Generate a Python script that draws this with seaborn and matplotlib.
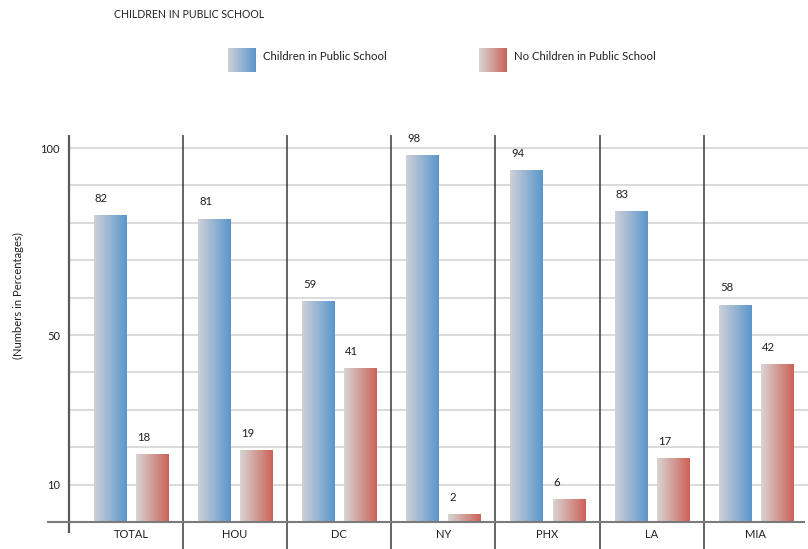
import numpy as np
import pandas as pd
import matplotlib
matplotlib.use("Agg")
import matplotlib.pyplot as plt
import seaborn as sns
from matplotlib.colors import LinearSegmentedColormap

# Data
cities = ["TOTAL", "HOU", "DC", "NY", "PHX", "LA", "MIA"]
in_public = [82, 81, 59, 98, 94, 83, 58]
not_in_public = [18, 19, 41, 2, 6, 17, 42]
series = ["Children in Public School", "No Children in Public School"]
y_ticks = [10, 50, 100]
y_tick_labels = ["10", "50", "100"]
grid_values = list(range(10, 101, 10))

sns.set_theme(style="white")
plt.rcParams["font.family"] = ["Lato", "DejaVu Sans"]
TEXT = "#231f20"

df = pd.DataFrame({
    "city": cities * 2,
    "value": in_public + not_in_public,
    "series": [series[0]] * len(cities) + [series[1]] * len(cities),
})

W, H = 808, 549
fig = plt.figure(figsize=(W / 100, H / 100), dpi=100)
ax_l, ax_r, ax_t, ax_b = 69, 808, 135, 522
ax = fig.add_axes([ax_l / W, 1 - ax_b / H, (ax_r - ax_l) / W, (ax_b - ax_t) / H])

blue_cmap = LinearSegmentedColormap.from_list("blue_ramp", ["#cfd1d8", "#5a96cb"])
red_cmap = LinearSegmentedColormap.from_list("red_ramp", ["#d8d5d4", "#cc6257"])

sns.barplot(data=df, x="city", y="value", hue="series", order=cities,
            hue_order=series, width=0.81, gap=0.24, ax=ax, legend=False,
            palette=["#5a96cb", "#cc6257"], saturation=1, err_kws={"linewidth": 0})

x0_lim, x1_lim = -0.594, 6.5
y0_lim, y1_lim = 0, 103.5

# Horizontal gradient fill for every bar, plus the value above it
ramp = np.linspace(0, 1, 256).reshape(1, -1)
for container, cmap, values in zip(ax.containers, [blue_cmap, red_cmap],
                                   [in_public, not_in_public]):
    for bar, v in zip(container, values):
        bx, by = bar.get_x(), bar.get_y()
        bw, bh = bar.get_width(), bar.get_height()
        ax.imshow(ramp, cmap=cmap, extent=[bx, bx + bw, by, by + bh],
                  aspect="auto", interpolation="bilinear", zorder=3)
        bar.set_visible(False)
        ax.annotate(f"{v}", xy=(bx, v), xytext=(0.8, 12.5),
                    textcoords="offset points", ha="left", va="center",
                    fontsize=8.2, color=TEXT)

# Light horizontal gridlines behind bars
ax.hlines(grid_values, x0_lim, x1_lim, color="#dadada", lw=1.4, zorder=1)

# Category separators running down past the baseline
ax.vlines(np.arange(len(cities) - 1) + 0.5, -7.6, y1_lim, color="#3a3a3a",
          lw=1.1, clip_on=False, zorder=4)
# Value axis line
ax.vlines(x0_lim, -2.9, y1_lim, color="#5a5a5a", lw=1.6, clip_on=False, zorder=4)
# Baseline
ax.hlines(0, x0_lim - 0.211, x1_lim - 0.03, color="#7a7a7a", lw=1.5,
          clip_on=False, zorder=4)

ax.set_xlim(x0_lim, x1_lim)
ax.set_ylim(y0_lim, y1_lim)
ax.set_yticks(y_ticks)
ax.set_yticklabels(y_tick_labels)
ax.tick_params(axis="y", length=0, pad=6.5, labelsize=8.0, labelcolor=TEXT)
ax.tick_params(axis="x", length=0, pad=5.3, labelsize=8.0, labelcolor=TEXT)
ax.set_xlabel("")
ax.set_ylabel("")
for s in ax.spines.values():
    s.set_visible(False)
ax.set_facecolor("none")

fig.text(18 / W, 1 - 296 / H, "(Numbers in Percentages)", rotation=90,
         ha="center", va="center", fontsize=8.1, color=TEXT)
fig.text(114 / W, 1 - 17.5 / H, "CHILDREN IN PUBLIC SCHOOL", ha="left",
         va="baseline", fontsize=7.6, color=TEXT)

# Legend with gradient swatches
for (sx, tx), cmap, label in zip([(228, 263), (479, 514)], [blue_cmap, red_cmap], series):
    sax = fig.add_axes([sx / W, 1 - 72 / H, 28 / W, 24 / H])
    sax.imshow(ramp, cmap=cmap, aspect="auto", interpolation="bilinear")
    sax.set_axis_off()
    fig.text(tx / W, 1 - 59.5 / H, label, ha="left", va="baseline",
             fontsize=8.2, color=TEXT)

fig.savefig("out.png", dpi=100)
